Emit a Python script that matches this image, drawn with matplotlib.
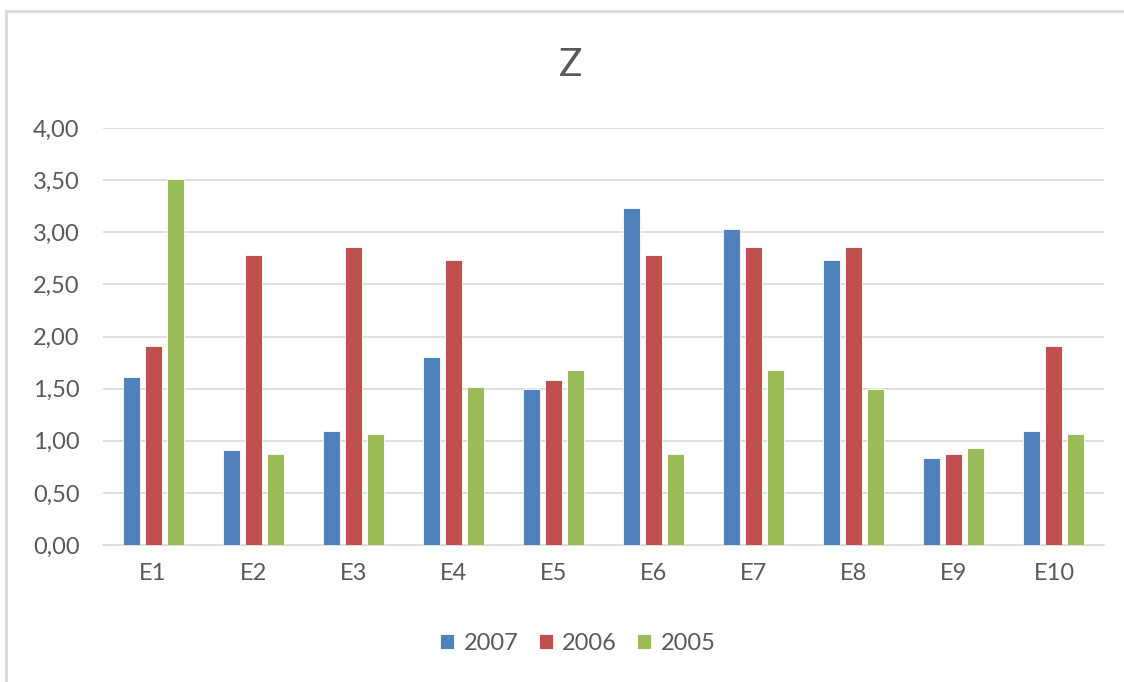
import matplotlib
matplotlib.use('Agg')
import matplotlib.pyplot as plt
from matplotlib.patches import Rectangle
import numpy as np

# data
categories = ['E1', 'E2', 'E3', 'E4', 'E5', 'E6', 'E7', 'E8', 'E9', 'E10']
series_names = ['2007', '2006', '2005']
v2007 = [1.61, 0.91, 1.09, 1.80, 1.50, 3.23, 3.03, 2.73, 0.83, 1.09]
v2006 = [1.91, 2.78, 2.86, 2.73, 1.58, 2.78, 2.86, 2.86, 0.87, 1.91]
v2005 = [3.51, 0.87, 1.06, 1.52, 1.68, 0.87, 1.68, 1.50, 0.93, 1.06]
yticks = [0, 0.5, 1.0, 1.5, 2.0, 2.5, 3.0, 3.5, 4.0]

COLORS = ['#4F81BD', '#C0504D', '#9BBB59']
TXT = '#595959'
GRID = '#D9D9D9'

plt.rcParams['font.family'] = ['Lato', 'DejaVu Sans']

W, H = 1124, 682
fig = plt.figure(figsize=(W / 100, H / 100), dpi=100, facecolor='white')

# outer chart frame (only top and left edges fall inside the image)
fig.patches.append(Rectangle((6 / W, -0.1), 1.2, 1 - 11 / H + 0.1,
                             transform=fig.transFigure, fill=False,
                             edgecolor='#D9D9D9', lw=2, zorder=0))

ax = fig.add_axes([103 / W, 1 - 545 / H, (1104 - 103) / W, (545 - 128) / H])

x = np.arange(len(categories))
bw = 0.17
offs = [-0.22, 0.0, 0.22]
for vals, name, c, o in zip([v2007, v2006, v2005], series_names, COLORS, offs):
    ax.bar(x + o, vals, bw, color=c, edgecolor='white', linewidth=0.6,
           label=name, zorder=3)

ax.set_xlim(-0.5, len(categories) - 0.5)
ax.set_ylim(0, 4)
ax.set_yticks(yticks)
ax.set_yticklabels([f'{v:.2f}'.replace('.', ',') for v in yticks])
ax.set_xticks(x)
ax.set_xticklabels(categories)
ax.tick_params(axis='both', length=0, labelsize=17, colors=TXT)
ax.tick_params(axis='y', pad=17)
ax.tick_params(axis='x', pad=13)
ax.grid(axis='y', color=GRID, lw=1.2, zorder=0)
for s in ['top', 'right', 'left']:
    ax.spines[s].set_visible(False)
ax.spines['bottom'].set_color(GRID)
ax.spines['bottom'].set_linewidth(1.2)

fig.text(571 / W, 1 - 65 / H, 'Z', ha='center', va='center',
         fontsize=28, color=TXT)

leg = fig.legend(loc='center', bbox_to_anchor=(578 / W, 1 - 643 / H),
                 ncol=3, frameon=False, fontsize=17, labelcolor=TXT,
                 handlelength=0.6, handleheight=0.6, handletextpad=0.4,
                 columnspacing=0.85)

fig.savefig('out.png', dpi=100, facecolor='white')
